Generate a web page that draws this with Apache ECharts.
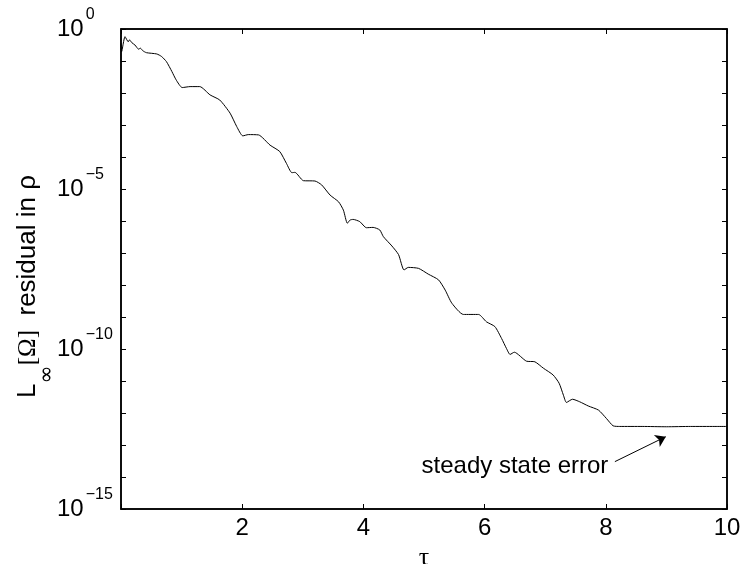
<!DOCTYPE html>
<html>
<head>
<meta charset="utf-8">
<script src="https://cdn.jsdelivr.net/npm/echarts@6/dist/echarts.min.js"></script>
<style>
html,body{margin:0;padding:0;background:#fff;}
#chart{width:745px;height:564px;}
</style>
</head>
<body>
<div id="chart"></div>
<script>
// time values (tau)
const tau = [0, 0.01, 0.066, 0.12, 0.14, 0.18, 0.23, 0.29, 0.32, 0.36, 0.42, 0.59, 0.67, 0.75, 0.84, 0.91,
  1.01, 1.14, 1.30, 1.47, 1.63, 1.80, 1.91, 2.01, 2.10, 2.27, 2.46, 2.62, 2.73, 2.82, 2.87,
  3.01, 3.20, 3.31, 3.45, 3.59, 3.67, 3.735, 3.78, 3.83, 3.94, 4.05, 4.16, 4.27, 4.33, 4.47, 4.58,
  4.67, 4.74, 4.91, 5.07, 5.24, 5.35, 5.46, 5.65, 5.90, 6.03, 6.17, 6.28, 6.36, 6.42, 6.49,
  6.69, 6.83, 6.97, 7.13, 7.23, 7.30, 7.35, 7.45, 7.57, 7.71, 7.88, 8.01, 8.12, 8.23,
  8.6, 9.0, 9.4, 9.8, 10.0];
// log10 of the L-infinity residual in rho
const residualLog10 = [-0.45, -0.71, -0.24, -0.40, -0.34, -0.43, -0.50, -0.63, -0.60, -0.68, -0.74, -0.78, -0.86, -1.02, -1.33, -1.59,
  -1.83, -1.80, -1.80, -2.06, -2.22, -2.63, -3.05, -3.34, -3.30, -3.31, -3.63, -3.83, -4.20, -4.49, -4.48,
  -4.74, -4.75, -4.87, -5.19, -5.40, -5.66, -6.07, -5.97, -5.95, -6.02, -6.21, -6.20, -6.28, -6.49, -6.78, -7.05,
  -7.53, -7.45, -7.48, -7.66, -7.84, -8.16, -8.57, -8.92, -8.92, -9.15, -9.30, -9.67, -9.98, -10.17, -10.10,
  -10.38, -10.40, -10.60, -10.81, -11.07, -11.44, -11.67, -11.57, -11.65, -11.78, -11.91, -12.17, -12.40, -12.42,
  -12.42, -12.43, -12.42, -12.42, -12.42];
const xTicks = [0, 2, 4, 6, 8, 10];
const annotationText = 'steady state error';
const annotationAt = [4.96, -13.67];   // [tau, log10 value]
const arrowFrom = [8.15, -13.52];
const arrowTo = [8.99, -12.74];

const data = tau.map((t, i) => [t, Math.pow(10, residualLog10[i])]);
const SANS = 'Liberation Sans, Arial, Helvetica, sans-serif';
const SERIF = 'Liberation Serif, Times New Roman, serif';

function axisLineStyle() { return {show: true, onZero: false, lineStyle: {color: '#000', width: 1.5}}; }
function tickStyle() { return {show: true, inside: true, length: 5, lineStyle: {color: '#000', width: 1}}; }

function yLabel(v) {
  const e = Math.round(Math.log10(v));
  if (e % 5 !== 0) return '';
  return '{b|10}{s|' + (e === 0 ? '0' : '\u2212' + (-e)) + '}';
}

const chart = echarts.init(document.getElementById('chart'), null, {renderer: 'canvas'});
chart.setOption({
  animation: false,
  backgroundColor: '#fff',
  grid: {left: 121, right: 18, top: 29, bottom: 55, containLabel: false, outerBoundsMode: 'none',
    show: true, borderColor: '#000', borderWidth: 1.5, backgroundColor: 'transparent'},
  xAxis: [{
    type: 'value', min: xTicks[0], max: xTicks[xTicks.length - 1], interval: 2,
    position: 'bottom',
    axisLine: axisLineStyle(), axisTick: tickStyle(), splitLine: {show: false},
    axisLabel: {color: '#000', fontSize: 24, fontFamily: SANS, margin: 7,
      formatter: v => (v === 0 ? '' : String(v))},
    name: 'τ', nameLocation: 'middle', nameGap: 36, nameMoveOverlap: false,
    nameTextStyle: {color: '#000', fontSize: 26, fontFamily: SERIF}
  }, {
    type: 'value', min: xTicks[0], max: xTicks[xTicks.length - 1], interval: 2,
    position: 'top', show: true,
    axisLine: axisLineStyle(), axisTick: tickStyle(), splitLine: {show: false},
    axisLabel: {show: false}
  }],
  yAxis: [{
    type: 'log', logBase: 10, min: 1e-15, max: 1, interval: 1,
    position: 'left',
    axisLine: axisLineStyle(), axisTick: tickStyle(), splitLine: {show: false}, minorTick: {show: false},
    axisLabel: {
      formatter: yLabel, align: 'left', margin: 64,
      rich: {
        b: {fontSize: 24, fontFamily: SANS, color: '#000', lineHeight: 44},
        s: {fontSize: 16, fontFamily: SANS, color: '#000', verticalAlign: 'top', lineHeight: 19, padding: [0, 0, 0, 2]}
      }
    },
    name: '{l|L}{sub|∞}{o|[Ω]}{r|  residual in ρ}',
    nameLocation: 'middle', nameGap: 63, nameMoveOverlap: false,
    nameTextStyle: {
      color: '#000', padding: [0, 35, 0, 0],
      rich: {
        l: {fontSize: 26, fontFamily: SANS, color: '#000', lineHeight: 60},
        sub: {fontSize: 22, fontFamily: 'DejaVu Sans', color: '#000', verticalAlign: 'bottom', lineHeight: 28},
        o: {fontSize: 25, fontFamily: SERIF, color: '#000', lineHeight: 60},
        r: {fontSize: 26, fontFamily: SANS, color: '#000', lineHeight: 60}
      }
    }
  }, {
    type: 'log', logBase: 10, min: 1e-15, max: 1, interval: 1,
    position: 'right', show: true,
    axisLine: axisLineStyle(), axisTick: tickStyle(), splitLine: {show: false},
    axisLabel: {show: false}
  }],
  series: [{
    type: 'line', xAxisIndex: 0, yAxisIndex: 0,
    data: data, showSymbol: false, symbol: 'none', smooth: 0.2,
    lineStyle: {color: '#000', width: 1},
    markLine: {
      silent: true, animation: false,
      lineStyle: {color: '#000', width: 1, type: 'solid'},
      label: {show: false},
      data: [[
        {coord: [arrowFrom[0], Math.pow(10, arrowFrom[1])], symbol: 'none'},
        {coord: [arrowTo[0], Math.pow(10, arrowTo[1])], symbol: 'arrow', symbolSize: 10}
      ]]
    },
    markPoint: {
      silent: true, animation: false,
      symbol: 'circle', symbolSize: 0,
      label: {show: true, position: 'inside', align: 'left', verticalAlign: 'middle',
        color: '#000', fontSize: 24, fontFamily: SANS, formatter: annotationText},
      data: [{coord: [annotationAt[0], Math.pow(10, annotationAt[1])]}]
    }
  }, {
    // binds the mirrored top/right axes so that they are drawn
    type: 'line', xAxisIndex: 1, yAxisIndex: 1, data: [], symbol: 'none', silent: true
  }]
});
</script>
</body>
</html>
